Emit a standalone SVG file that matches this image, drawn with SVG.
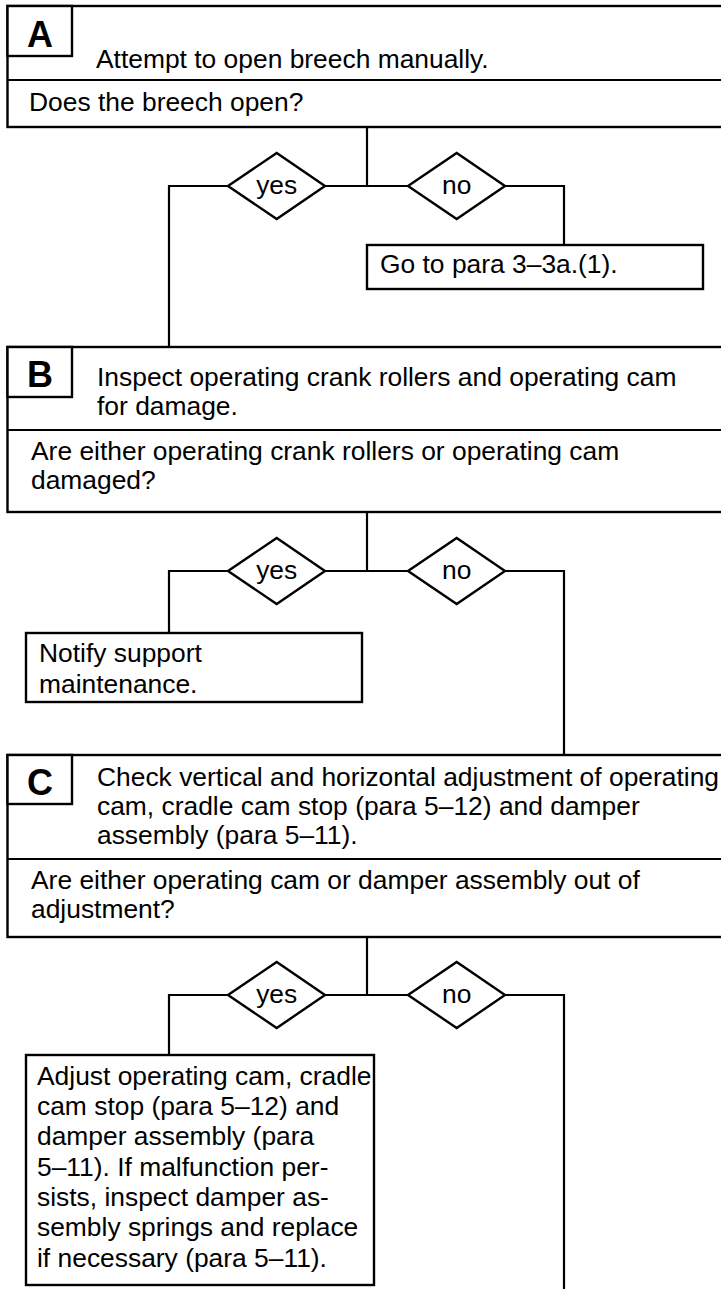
<svg xmlns="http://www.w3.org/2000/svg" width="721" height="1289" viewBox="0 0 721 1289">
<style>
.box{fill:#fff;stroke:#000;stroke-width:2.4}
.ln{fill:none;stroke:#000;stroke-width:2.2}
.t{font-family:"Liberation Sans",Arial,sans-serif;font-size:26.4px;fill:#000}
.lbl{font-family:"Liberation Sans",Arial,sans-serif;font-size:36px;font-weight:bold;fill:#000;text-anchor:middle}
.c{text-anchor:middle}
</style>
<rect width="721" height="1289" fill="#fff"/>
<g id="connectors">
<polyline class="ln" points="367,127 367,186"/>
<polyline class="ln" points="169,347 169,186 564,186 564,245"/>
<polyline class="ln" points="367,512 367,571"/>
<polyline class="ln" points="169,633 169,571 564,571 564,755"/>
<polyline class="ln" points="367,937 367,995"/>
<polyline class="ln" points="169,1055 169,995 564,995 564,1295"/>
</g>
<g id="boxA">
<rect class="box" x="7.5" y="6" width="740" height="121"/>
<line class="ln" x1="7.5" y1="80" x2="740" y2="80"/>
<rect class="box" x="7.5" y="6" width="64.5" height="50"/>
<text class="lbl" x="40" y="47">A</text>
<text class="t" x="96" y="68">Attempt to open breech manually.</text>
<text class="t" x="29" y="111">Does the breech open?</text>
</g>
<g id="decA-yes">
<polygon class="box" points="228,186 276.7,153 325,186 276.7,219"/>
<text class="t c" x="276.7" y="193.5">yes</text>
</g>
<g id="decA-no">
<polygon class="box" points="408,186 456.7,153 505,186 456.7,219"/>
<text class="t c" x="456.7" y="193.5">no</text>
</g>
<g id="goto">
<rect class="box" x="367" y="245" width="336" height="44"/>
<text class="t" x="380" y="273">Go to para 3–3a.(1).</text>
</g>
<g id="boxB">
<rect class="box" x="7.5" y="347" width="740" height="165"/>
<line class="ln" x1="7.5" y1="430" x2="740" y2="430"/>
<rect class="box" x="7.5" y="347" width="64.5" height="50"/>
<text class="lbl" x="40" y="387">B</text>
<text class="t" x="97" y="386">Inspect operating crank rollers and operating cam</text>
<text class="t" x="97" y="415">for damage.</text>
<text class="t" x="31" y="460">Are either operating crank rollers or operating cam</text>
<text class="t" x="31" y="489">damaged?</text>
</g>
<g id="decB-yes">
<polygon class="box" points="228,571 276.7,538 325,571 276.7,604"/>
<text class="t c" x="276.7" y="578.5">yes</text>
</g>
<g id="decB-no">
<polygon class="box" points="408,571 456.7,538 505,571 456.7,604"/>
<text class="t c" x="456.7" y="578.5">no</text>
</g>
<g id="notify">
<rect class="box" x="26" y="633" width="336" height="69"/>
<text class="t" x="39" y="662">Notify support</text>
<text class="t" x="39" y="693">maintenance.</text>
</g>
<g id="boxC">
<rect class="box" x="7.5" y="755" width="740" height="182"/>
<line class="ln" x1="7.5" y1="859" x2="740" y2="859"/>
<rect class="box" x="7.5" y="755" width="64.5" height="49"/>
<text class="lbl" x="40" y="795">C</text>
<text class="t" x="97" y="786">Check vertical and horizontal adjustment of operating</text>
<text class="t" x="97" y="815">cam, cradle cam stop (para 5–12) and damper</text>
<text class="t" x="97" y="844">assembly (para 5–11).</text>
<text class="t" x="31" y="889">Are either operating cam or damper assembly out of</text>
<text class="t" x="31" y="918">adjustment?</text>
</g>
<g id="decC-yes">
<polygon class="box" points="228,995 276.7,962 325,995 276.7,1028"/>
<text class="t c" x="276.7" y="1002.5">yes</text>
</g>
<g id="decC-no">
<polygon class="box" points="408,995 456.7,962 505,995 456.7,1028"/>
<text class="t c" x="456.7" y="1002.5">no</text>
</g>
<g id="adjust">
<rect class="box" x="26" y="1055" width="348" height="230"/>
<text class="t" x="37" y="1085">Adjust operating cam, cradle</text>
<text class="t" x="37" y="1115">cam stop (para 5–12) and</text>
<text class="t" x="37" y="1145">damper assembly (para</text>
<text class="t" x="37" y="1176">5–11). If malfunction per-</text>
<text class="t" x="37" y="1206">sists, inspect damper as-</text>
<text class="t" x="37" y="1236">sembly springs and replace</text>
<text class="t" x="37" y="1267">if necessary (para 5–11).</text>
</g>
</svg>
